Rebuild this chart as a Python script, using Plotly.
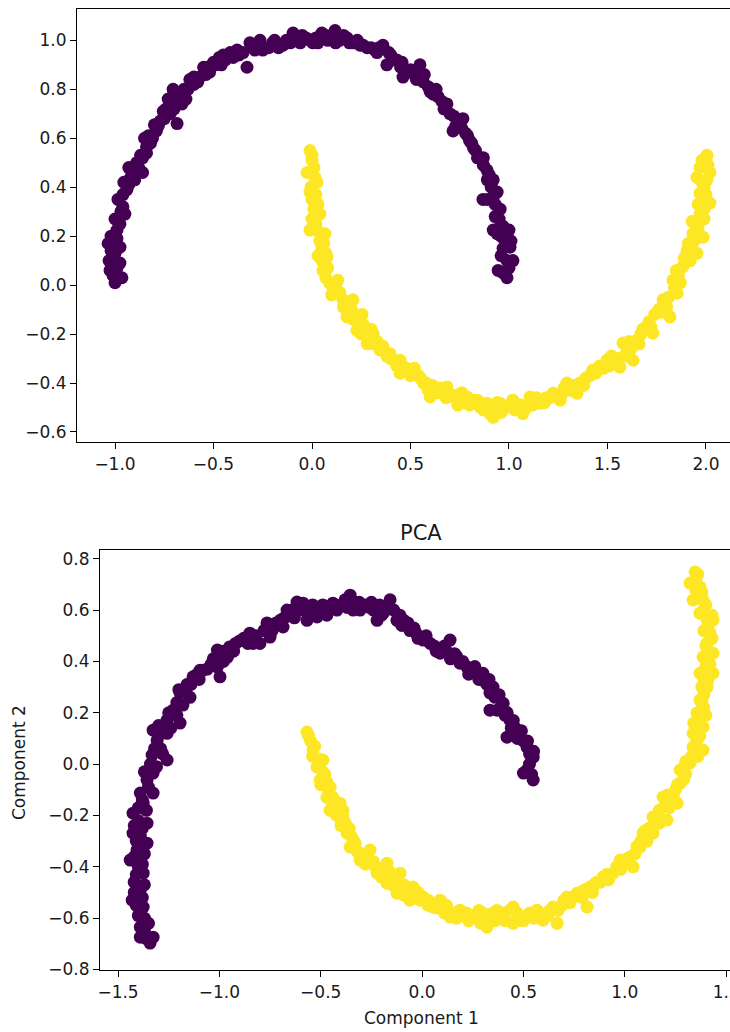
import plotly.graph_objects as go

# ---------------- data: top panel (original two-moons) ----------------
moons_purple_x = [-1.00, -0.965, -1.025, -1.03, -0.975, -1.035, -0.975, -1.0, -0.99, -1.02, -0.95, -0.975,
                  -0.985, -0.96, -0.94, -0.955, -0.91, -0.92, -0.86, -0.89, -0.87, -0.84, -0.85, -0.82,
                  -0.79, -0.80, -0.755, -0.77, -0.685, -0.72, -0.705, -0.73, -0.66, -0.68, -0.6, -0.63,
                  -0.62, -0.55, -0.57, -0.52, -0.47, -0.49, -0.415, -0.44, -0.37, -0.33, -0.315, -0.29,
                  -0.264, -0.22, -0.19, -0.147, -0.096, -0.06, -0.03, 0.005, 0.05, 0.08, 0.117, 0.14,
                  0.178, 0.21, 0.244, 0.28, 0.32, 0.36, 0.38, 0.40, 0.43, 0.457, 0.462, 0.50, 0.548,
                  0.565, 0.59, 0.615, 0.64, 0.685, 0.70, 0.716, 0.74, 0.766, 0.78, 0.8, 0.82, 0.853,
                  0.87, 0.888, 0.90, 0.92, 0.868, 0.89, 0.92, 0.94, 0.955, 0.93, 0.92, 0.94, 0.97, 1.0,
                  1.005, 0.97, 1.02, 0.99, 0.945, 0.99]
moons_purple_y = [0.01, 0.03, 0.06, 0.10, 0.09, 0.17, 0.155, 0.13, 0.225, 0.20, 0.29, 0.25,
                  0.35, 0.32, 0.39, 0.42, 0.47, 0.44, 0.46, 0.50, 0.53, 0.565, 0.60, 0.58,
                  0.63, 0.655, 0.71, 0.67, 0.66, 0.70, 0.80, 0.76, 0.74, 0.77, 0.82, 0.80,
                  0.84, 0.89, 0.85, 0.87, 0.93, 0.90, 0.95, 0.92, 0.94, 0.89, 0.99, 0.96,
                  1.0, 0.97, 1.0, 0.98, 1.03, 0.99, 1.01, 0.99, 1.03, 1.0, 1.04, 1.0,
                  1.01, 0.99, 0.98, 0.97, 0.96, 0.98, 0.90, 0.94, 0.92, 0.91, 0.85, 0.88, 0.90,
                  0.83, 0.81, 0.78, 0.77, 0.74, 0.70, 0.63, 0.66, 0.68, 0.62, 0.59, 0.56, 0.52,
                  0.52, 0.47, 0.45, 0.43, 0.35, 0.35, 0.36, 0.38, 0.31, 0.28, 0.225, 0.21, 0.24, 0.225,
                  0.155, 0.15, 0.10, 0.10, 0.06, 0.03]
moons_purple_more = [(-1.01, 0.04), (-0.99, 0.07), (-1.02, 0.14), (-0.99, 0.19), (-1.0, 0.27), (-0.97, 0.30),
                     (-0.96, 0.37), (-0.93, 0.41), (-0.90, 0.43), (-0.93, 0.48), (-0.88, 0.48), (-0.86, 0.52),
                     (-0.84, 0.54), (-0.83, 0.61), (-0.81, 0.60), (-0.78, 0.65), (-0.75, 0.68), (-0.74, 0.72),
                     (-0.70, 0.72), (-0.71, 0.76), (-0.67, 0.78), (-0.65, 0.80), (-0.64, 0.76), (-0.60, 0.85),
                     (-0.58, 0.83), (-0.54, 0.86), (-0.53, 0.89), (-0.50, 0.91), (-0.46, 0.90), (-0.45, 0.94),
                     (-0.40, 0.93), (-0.38, 0.96), (-0.35, 0.95), (-0.30, 0.97), (-0.27, 0.98), (-0.25, 0.96),
                     (-0.20, 0.99), (-0.17, 0.97), (-0.13, 1.0), (-0.11, 0.99), (-0.08, 1.01), (-0.05, 1.02),
                     (-0.01, 1.0), (0.02, 1.01), (0.03, 0.99), (0.07, 1.02), (0.10, 1.01), (0.12, 0.99),
                     (0.16, 1.02), (0.19, 0.99), (0.23, 1.0), (0.26, 0.98), (0.30, 0.97), (0.33, 0.95),
                     (0.34, 0.97), (0.39, 0.95), (0.41, 0.92), (0.45, 0.89), (0.48, 0.87), (0.52, 0.86),
                     (0.53, 0.84), (0.57, 0.86), (0.60, 0.79), (0.63, 0.80), (0.66, 0.75), (0.67, 0.72),
                     (0.72, 0.69), (0.73, 0.65), (0.76, 0.64), (0.79, 0.61), (0.81, 0.58), (0.83, 0.55),
                     (0.84, 0.52), (0.87, 0.49), (0.89, 0.43), (0.91, 0.40), (0.93, 0.33), (0.95, 0.27),
                     (0.96, 0.20), (0.98, 0.18), (0.96, 0.12), (1.0, 0.07), (0.97, 0.05), (1.01, 0.18)]

moons_yellow_x = [-0.01, 0.0, -0.025, 0.01, 0.025, -0.005, 0.0, 0.02, 0.04, 0.01, -0.01, 0.02, 0.066,
                  0.04, 0.05, 0.076, 0.05, 0.056, 0.09, 0.13, 0.11, 0.157, 0.208, 0.178, 0.19, 0.254,
                  0.228, 0.26, 0.31, 0.28, 0.33, 0.345, 0.396, 0.42, 0.447, 0.447, 0.48, 0.513, 0.54,
                  0.565, 0.6, 0.61, 0.65, 0.685, 0.70, 0.736, 0.76, 0.787, 0.82, 0.853, 0.888, 0.904,
                  0.92, 0.94, 0.955, 0.98, 1.02, 1.04, 1.07, 1.107, 1.13, 1.157, 1.19, 1.224, 1.26,
                  1.294, 1.31, 1.345, 1.36, 1.39, 1.426, 1.46, 1.497, 1.53, 1.563, 1.579, 1.60, 1.63,
                  1.65, 1.67, 1.70, 1.73, 1.74, 1.782, 1.817, 1.80, 1.853, 1.833, 1.86, 1.883, 1.904,
                  1.954, 1.92, 1.934, 1.985, 1.95, 1.97, 2.02, 1.99, 1.97, 2.005, 1.99, 1.954, 1.97,
                  2.005, 1.99]
moons_yellow_y = [0.55, 0.51, 0.46, 0.48, 0.42, 0.40, 0.35, 0.37, 0.29, 0.31, 0.225, 0.25, 0.21,
                  0.18, 0.15, 0.115, 0.10, 0.06, 0.008, 0.02, -0.02, -0.06, -0.06, -0.13, -0.09, -0.12,
                  -0.185, -0.16, -0.2, -0.24, -0.23, -0.265, -0.28, -0.31, -0.307, -0.36, -0.34, -0.36, -0.37,
                  -0.40, -0.457, -0.41, -0.42, -0.416, -0.45, -0.47, -0.44, -0.457, -0.47, -0.498, -0.483, -0.525,
                  -0.54, -0.48, -0.483, -0.50, -0.47, -0.49, -0.525, -0.457, -0.48, -0.483, -0.46, -0.442, -0.47,
                  -0.40, -0.43, -0.442, -0.40, -0.38, -0.347, -0.33, -0.307, -0.30, -0.335, -0.237, -0.27, -0.307,
                  -0.225, -0.20, -0.17, -0.196, -0.12, -0.06, -0.13, -0.09, -0.033, 0.02, 0.04, 0.075, 0.14,
                  0.13, 0.10, 0.21, 0.196, 0.25, 0.29, 0.335, 0.31, 0.375, 0.43, 0.40, 0.44, 0.48,
                  0.53, 0.50]
moons_yellow_more = [(0.00, 0.53), (0.015, 0.44), (-0.01, 0.38), (0.03, 0.33), (0.0, 0.27), (0.03, 0.22),
                     (0.06, 0.17), (0.07, 0.13), (0.03, 0.12), (0.08, 0.07), (0.07, 0.03), (0.12, 0.0),
                     (0.10, -0.04), (0.14, -0.03), (0.16, -0.09), (0.20, -0.10), (0.21, -0.14), (0.24, -0.16),
                     (0.25, -0.20), (0.30, -0.18), (0.31, -0.24), (0.36, -0.25), (0.38, -0.29), (0.40, -0.30),
                     (0.43, -0.33), (0.46, -0.33), (0.50, -0.37), (0.52, -0.34), (0.55, -0.38), (0.58, -0.40),
                     (0.59, -0.43), (0.63, -0.44), (0.66, -0.44), (0.68, -0.46), (0.72, -0.45), (0.74, -0.49),
                     (0.77, -0.48), (0.80, -0.49), (0.84, -0.47), (0.87, -0.51), (0.90, -0.50), (0.93, -0.51),
                     (0.96, -0.52), (1.00, -0.49), (1.03, -0.51), (1.06, -0.49), (1.09, -0.50), (1.12, -0.49),
                     (1.14, -0.46), (1.18, -0.48), (1.21, -0.46), (1.24, -0.45), (1.27, -0.44), (1.28, -0.42),
                     (1.33, -0.41), (1.38, -0.41), (1.41, -0.37), (1.44, -0.36), (1.48, -0.34), (1.51, -0.33),
                     (1.52, -0.29), (1.55, -0.30), (1.59, -0.29), (1.61, -0.23), (1.62, -0.26), (1.66, -0.24),
                     (1.68, -0.18), (1.71, -0.15), (1.72, -0.17), (1.76, -0.10), (1.78, -0.11), (1.81, -0.05),
                     (1.84, -0.01), (1.87, 0.01), (1.85, 0.06), (1.89, 0.11), (1.91, 0.17), (1.94, 0.18),
                     (1.96, 0.23), (1.93, 0.26), (1.99, 0.27), (1.96, 0.33), (2.00, 0.37), (1.98, 0.42),
                     (2.02, 0.46), (1.98, 0.51), (2.01, 0.49)]

# ---------------- data: bottom panel (PCA) ----------------
pca_purple_x = [-1.342, -1.39, -1.327, -1.39, -1.37, -1.376, -1.43, -1.41, -1.39, -1.42, -1.376, -1.40,
                -1.44, -1.406, -1.357, -1.426, -1.39, -1.357, -1.40, -1.426, -1.376, -1.327, -1.39, -1.357,
                -1.327, -1.34, -1.332, -1.258, -1.307, -1.29, -1.327, -1.258, -1.258, -1.194, -1.228, -1.21,
                -1.194, -1.145, -1.16, -1.13, -1.08, -1.095, -1.01, -0.997, -1.03, -1.01, -0.96, -0.95,
                -0.90, -0.85, -0.834, -0.8, -0.75, -0.765, -0.765, -0.72, -0.686, -0.666, -0.652, -0.617,
                -0.587, -0.568, -0.55, -0.518, -0.503, -0.469, -0.44, -0.40, -0.355, -0.33, -0.306, -0.28,
                -0.24, -0.222, -0.19, -0.158, -0.14, -0.124, -0.09, -0.06, -0.03, 0.005, 0.04, 0.089,
                0.138, 0.11, 0.16, 0.187, 0.22, 0.25, 0.3, 0.3, 0.335, 0.35, 0.37, 0.335, 0.4, 0.41,
                0.434, 0.419, 0.46, 0.483, 0.50, 0.518, 0.548, 0.5, 0.53, 0.548]
pca_purple_y = [-0.697, -0.674, -0.674, -0.635, -0.60, -0.557, -0.53, -0.55, -0.49, -0.46, -0.425, -0.40,
                -0.374, -0.335, -0.308, -0.269, -0.28, -0.23, -0.22, -0.191, -0.152, -0.113, -0.113, -0.062,
                -0.035, 0.0, 0.035, 0.016, 0.093, 0.06, 0.132, 0.12, 0.171, 0.16, 0.21, 0.24,
                0.277, 0.26, 0.31, 0.34, 0.366, 0.366, 0.378, 0.34, 0.41, 0.444, 0.417, 0.456,
                0.48, 0.51, 0.47, 0.47, 0.495, 0.534, 0.55, 0.55, 0.534, 0.6, 0.58, 0.631,
                0.627, 0.56, 0.60, 0.573, 0.61, 0.6, 0.627, 0.62, 0.658, 0.63, 0.6, 0.62,
                0.60, 0.56, 0.59, 0.64, 0.60, 0.56, 0.56, 0.52, 0.51, 0.483, 0.47, 0.432,
                0.483, 0.46, 0.43, 0.393, 0.38, 0.366, 0.327, 0.354, 0.277, 0.3, 0.21, 0.21, 0.237, 0.19,
                0.171, 0.105, 0.14, 0.12, 0.09, 0.066, 0.027, -0.035, 0.0, -0.062]
pca_purple_more = [(-1.36, -0.68), (-1.37, -0.65), (-1.35, -0.62), (-1.40, -0.59), (-1.38, -0.52), (-1.42, -0.50),
                   (-1.37, -0.47), (-1.41, -0.43), (-1.38, -0.39), (-1.42, -0.36), (-1.39, -0.33), (-1.37, -0.35),
                   (-1.41, -0.30), (-1.38, -0.25), (-1.42, -0.24), (-1.40, -0.17), (-1.36, -0.18), (-1.38, -0.14),
                   (-1.35, -0.09), (-1.37, -0.03), (-1.31, -0.01), (-1.32, 0.06), (-1.28, 0.04), (-1.29, 0.12),
                   (-1.30, 0.15), (-1.24, 0.14), (-1.25, 0.20), (-1.21, 0.19), (-1.18, 0.23), (-1.20, 0.29),
                   (-1.17, 0.28), (-1.14, 0.31), (-1.11, 0.35), (-1.10, 0.33), (-1.06, 0.37), (-1.04, 0.39),
                   (-0.98, 0.40), (-0.99, 0.44), (-0.93, 0.44), (-0.92, 0.47), (-0.88, 0.49), (-0.86, 0.47),
                   (-0.82, 0.50), (-0.78, 0.52), (-0.74, 0.52), (-0.70, 0.56), (-0.68, 0.57), (-0.64, 0.60),
                   (-0.63, 0.57), (-0.60, 0.60), (-0.58, 0.60), (-0.54, 0.62), (-0.53, 0.59), (-0.49, 0.62),
                   (-0.47, 0.58), (-0.42, 0.60), (-0.38, 0.64), (-0.37, 0.61), (-0.34, 0.60), (-0.31, 0.63),
                   (-0.26, 0.61), (-0.25, 0.63), (-0.21, 0.62), (-0.20, 0.58), (-0.17, 0.61), (-0.11, 0.58),
                   (-0.10, 0.54), (-0.07, 0.55), (-0.04, 0.53), (-0.02, 0.49), (0.02, 0.50), (0.06, 0.46),
                   (0.07, 0.44), (0.12, 0.44), (0.14, 0.41), (0.17, 0.42), (0.20, 0.40), (0.23, 0.35),
                   (0.26, 0.38), (0.28, 0.33), (0.32, 0.31), (0.33, 0.33), (0.36, 0.26), (0.38, 0.27),
                   (0.39, 0.22), (0.42, 0.20), (0.44, 0.14), (0.45, 0.17), (0.47, 0.10), (0.49, 0.13),
                   (0.52, 0.09), (0.53, 0.04), (0.55, 0.05), (0.52, -0.02), (0.54, -0.04)]

pca_yellow_x = [-0.568, -0.55, -0.538, -0.489, -0.518, -0.503, -0.48, -0.454, -0.47, -0.454, -0.405, -0.42,
                -0.39, -0.37, -0.40, -0.34, -0.355, -0.306, -0.257, -0.24, -0.222, -0.173, -0.173, -0.14,
                -0.109, -0.124, -0.045, -0.06, -0.02, 0.005, 0.054, 0.089, 0.12, 0.138, 0.187, 0.22,
                0.25, 0.32, 0.3, 0.35, 0.385, 0.434, 0.449, 0.449, 0.483, 0.518, 0.567, 0.597, 0.646,
                0.666, 0.69, 0.715, 0.764, 0.79, 0.814, 0.829, 0.86, 0.893, 0.942, 0.977, 1.0, 1.026,
                1.041, 1.075, 1.09, 1.11, 1.139, 1.139, 1.17, 1.208, 1.189, 1.22, 1.258, 1.273, 1.25,
                1.273, 1.30, 1.322, 1.386, 1.337, 1.36, 1.337, 1.386, 1.36, 1.356, 1.39, 1.371, 1.406,
                1.38, 1.371, 1.435, 1.40, 1.386, 1.435, 1.406, 1.42, 1.39, 1.406, 1.435, 1.371, 1.386,
                1.337, 1.36, 1.371, 1.322, 1.347]
pca_yellow_y = [0.125, 0.09, 0.055, 0.016, -0.012, -0.062, -0.04, -0.09, -0.13, -0.18, -0.152, -0.20,
                -0.206, -0.269, -0.24, -0.296, -0.323, -0.374, -0.335, -0.38, -0.425, -0.386, -0.464, -0.44,
                -0.425, -0.503, -0.479, -0.53, -0.50, -0.518, -0.557, -0.53, -0.55, -0.596, -0.569, -0.58,
                -0.596, -0.635, -0.58, -0.58, -0.596, -0.569, -0.62, -0.557, -0.608, -0.596, -0.569, -0.608, -0.557,
                -0.62, -0.55, -0.518, -0.503, -0.52, -0.557, -0.479, -0.46, -0.44, -0.425, -0.374, -0.39, -0.362,
                -0.40, -0.323, -0.269, -0.30, -0.269, -0.206, -0.23, -0.218, -0.129, -0.17, -0.152, -0.074, -0.10,
                -0.023, -0.04, 0.004, 0.055, 0.066, 0.03, 0.12, 0.144, 0.10, 0.199, 0.22, 0.249, 0.3,
                0.30, 0.354, 0.354, 0.38, 0.417, 0.432, 0.471, 0.51, 0.52, 0.561, 0.561, 0.588, 0.639,
                0.639, 0.66, 0.69, 0.705, 0.748]
pca_yellow_more = [(-0.56, 0.11), (-0.53, 0.07), (-0.54, 0.03), (-0.51, 0.02), (-0.49, -0.03), (-0.50, -0.08),
                   (-0.47, -0.07), (-0.46, -0.11), (-0.44, -0.13), (-0.44, -0.16), (-0.43, -0.19), (-0.39, -0.18),
                   (-0.40, -0.22), (-0.38, -0.23), (-0.36, -0.25), (-0.35, -0.28), (-0.33, -0.31), (-0.32, -0.34),
                   (-0.29, -0.35), (-0.28, -0.39), (-0.25, -0.38), (-0.23, -0.40), (-0.20, -0.41), (-0.20, -0.44),
                   (-0.16, -0.42), (-0.15, -0.47), (-0.12, -0.46), (-0.09, -0.47), (-0.09, -0.51), (-0.04, -0.52),
                   (-0.01, -0.53), (0.03, -0.53), (0.03, -0.55), (0.07, -0.56), (0.10, -0.56), (0.11, -0.58),
                   (0.16, -0.58), (0.17, -0.60), (0.21, -0.59), (0.23, -0.61), (0.27, -0.60), (0.28, -0.57),
                   (0.29, -0.62), (0.33, -0.60), (0.36, -0.61), (0.37, -0.57), (0.40, -0.58), (0.41, -0.61),
                   (0.47, -0.58), (0.50, -0.61), (0.53, -0.58), (0.55, -0.60), (0.58, -0.58), (0.62, -0.59),
                   (0.63, -0.57), (0.67, -0.57), (0.70, -0.53), (0.73, -0.54), (0.74, -0.52), (0.78, -0.50),
                   (0.80, -0.49), (0.84, -0.50), (0.85, -0.47), (0.88, -0.46), (0.91, -0.43), (0.92, -0.45),
                   (0.96, -0.40), (0.98, -0.41), (1.01, -0.37), (1.05, -0.35), (1.06, -0.32), (1.08, -0.30),
                   (1.10, -0.26), (1.12, -0.25), (1.16, -0.21), (1.17, -0.18), (1.20, -0.16), (1.21, -0.12),
                   (1.24, -0.13), (1.26, -0.08), (1.29, -0.06), (1.30, 0.01), (1.33, 0.03), (1.35, 0.08),
                   (1.37, 0.11), (1.34, 0.16), (1.37, 0.17), (1.40, 0.19), (1.38, 0.24), (1.39, 0.27),
                   (1.41, 0.33), (1.39, 0.33), (1.42, 0.39), (1.41, 0.43), (1.40, 0.46), (1.43, 0.49),
                   (1.41, 0.53), (1.43, 0.58), (1.39, 0.60), (1.40, 0.62), (1.38, 0.67), (1.35, 0.68),
                   (1.35, 0.72), (1.36, 0.74)]

# ---------------- tick labels ----------------
top_xticks = [-1.0, -0.5, 0.0, 0.5, 1.0, 1.5, 2.0]
top_xlabels = ["\u22121.0", "\u22120.5", "0.0", "0.5", "1.0", "1.5", "2.0"]
top_yticks = [-0.6, -0.4, -0.2, 0.0, 0.2, 0.4, 0.6, 0.8, 1.0]
top_ylabels = ["\u22120.6", "\u22120.4", "\u22120.2", "0.0", "0.2", "0.4", "0.6", "0.8", "1.0"]
bot_xticks = [-1.5, -1.0, -0.5, 0.0, 0.5, 1.0, 1.5]
bot_xlabels = ["\u22121.5", "\u22121.0", "\u22120.5", "0.0", "0.5", "1.0", "1.5"]
bot_yticks = [-0.8, -0.6, -0.4, -0.2, 0.0, 0.2, 0.4, 0.6, 0.8]
bot_ylabels = ["\u22120.8", "\u22120.6", "\u22120.4", "\u22120.2", "0.0", "0.2", "0.4", "0.6", "0.8"]


def merged(xs, ys, more):
    return xs + [p[0] for p in more], ys + [p[1] for p in more]


PURPLE = "#440154"
YELLOW = "#fde725"
W, H = 730, 1032
FONT = "DejaVu Sans"
TXT = "#1a1a1a"
MS = 13

series = [
    (merged(moons_purple_x, moons_purple_y, moons_purple_more), PURPLE, "x", "y"),
    (merged(moons_yellow_x, moons_yellow_y, moons_yellow_more), YELLOW, "x", "y"),
    (merged(pca_purple_x, pca_purple_y, pca_purple_more), PURPLE, "x2", "y2"),
    (merged(pca_yellow_x, pca_yellow_y, pca_yellow_more), YELLOW, "x2", "y2"),
]

fig = go.Figure()
for (xs, ys), col, xa, ya in series:
    fig.add_trace(go.Scatter(x=xs, y=ys, mode="markers",
                             marker=dict(color=col, size=MS, line=dict(width=0)),
                             xaxis=xa, yaxis=ya, hoverinfo="x+y"))

axis_common = dict(showline=True, linecolor="black", linewidth=1.2, showgrid=False, zeroline=False,
                   ticks="outside", ticklen=6, tickwidth=1.2, tickcolor="black",
                   tickfont=dict(family=FONT, size=17, color=TXT), tickmode="array",
                   ticklabeloverflow="allow", automargin=False)

fig.update_layout(
    width=W, height=H, autosize=False,
    margin=dict(l=0, r=0, t=0, b=0, autoexpand=False),
    paper_bgcolor="white", plot_bgcolor="white",
    showlegend=False,
    xaxis=dict(domain=[77 / W, 1.0], range=[-1.193, 2.122], anchor="y", mirror=True,
               tickvals=top_xticks, ticktext=top_xlabels, **axis_common),
    yaxis=dict(domain=[1 - 442 / H, 1 - 9 / H], range=[-0.641, 1.128], anchor="x", mirror=False,
               tickvals=top_yticks, ticktext=top_ylabels, **axis_common),
    xaxis2=dict(domain=[100 / W, 1.0], range=[-1.589, 1.519], anchor="y2", mirror=True,
                tickvals=bot_xticks, ticktext=bot_xlabels, **axis_common),
    yaxis2=dict(domain=[1 - 970 / H, 1 - 550 / H], range=[-0.802, 0.834], anchor="x2", mirror=False,
                tickvals=bot_yticks, ticktext=bot_ylabels, **axis_common),
    annotations=[
        dict(text="PCA", x=421 / W, y=1 - 533 / H, xref="paper", yref="paper", showarrow=False,
             xanchor="center", yanchor="middle", font=dict(family=FONT, size=21, color=TXT)),
        dict(text="Component 1", x=421 / W, y=1 - 1018 / H, xref="paper", yref="paper", showarrow=False,
             xanchor="center", yanchor="middle", font=dict(family=FONT, size=17, color=TXT)),
        dict(text="Component 2", x=19 / W, y=1 - 763 / H, xref="paper", yref="paper", showarrow=False,
             xanchor="center", yanchor="middle", textangle=-90, font=dict(family=FONT, size=17, color=TXT)),
    ],
)

fig.write_html("out.html")
